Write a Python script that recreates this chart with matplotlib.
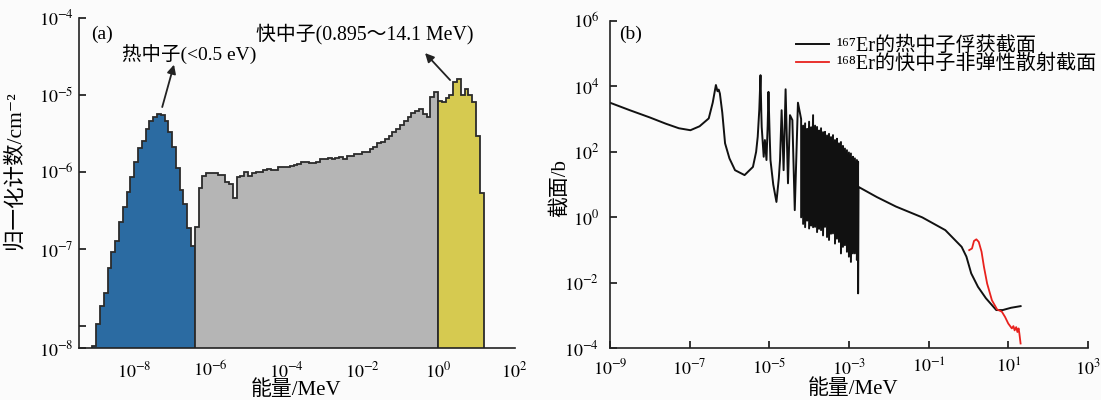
import numpy as np
import matplotlib
matplotlib.use("Agg")
import matplotlib.pyplot as plt

plt.rcParams['font.family'] = ['Liberation Serif', 'Noto Sans CJK SC', 'DejaVu Sans']
plt.rcParams['mathtext.fontset'] = 'stix'

# ---- (a) neutron spectrum: log10(normalised counts/cm^-2) per 0.1-decade bin, from 10^-9.1 MeV
bin_start = -9.1
bin_step = 0.1
thermal = [-8.26, -7.97, -7.74, -7.57, -7.25, -7.04, -6.90, -6.65, -6.46, -6.26, -6.07,
           -5.87, -5.69, -5.60, -5.45, -5.34, -5.29, -5.25, -5.26, -5.34, -5.49,
           -5.68, -5.95, -6.24, -6.42, -6.73, -6.96]
epithermal = [-6.72, -6.21, -6.05, -6.02, -6.01, -6.01, -6.04, -6.04, -6.13, -6.16,
              -6.34, -6.07, -6.05, -6.00, -6.06, -6.02, -6.00, -6.00, -5.98, -5.96,
              -5.98, -5.98, -5.94, -5.94, -5.94, -5.93, -5.91, -5.90, -5.87, -5.87,
              -5.88, -5.88, -5.87, -5.84, -5.84, -5.82, -5.84, -5.82, -5.81, -5.83,
              -5.80, -5.80, -5.77, -5.77, -5.74, -5.74, -5.71, -5.68, -5.63, -5.61,
              -5.58, -5.54, -5.49, -5.44, -5.39, -5.34, -5.29, -5.24, -5.21, -5.19,
              -5.25, -5.29, -5.03, -4.97]
fast = [-5.08, -5.10, -5.04, -5.00, -4.83, -4.80, -5.01, -4.93, -5.01, -5.09, -5.54, -6.28]

# ---- (b) cross sections, log10(E/MeV) and log10(sigma/b)
cap_logE = [-9.0, -8.5, -8.0, -7.6, -7.27, -6.98, -6.75, -6.52, -6.42, -6.34, -6.30, -6.27,
            -6.24, -6.18, -6.11, -6.0, -5.86, -5.62, -5.41, -5.33, -5.29, -5.25, -5.22,
            -5.20, -5.19, -5.14, -5.11, -5.07, -5.04, -5.02, -4.99, -4.97, -4.90, -4.82,
            -4.76, -4.73, -4.69, -4.64, -4.59, -4.53, -4.48, -4.42, -4.36, -4.28]
cap_logxs = [3.50, 3.27, 3.05, 2.86, 2.72, 2.66, 2.78, 3.02, 3.50, 4.04, 3.85, 3.90,
             3.78, 3.20, 2.26, 1.80, 1.44, 1.29, 1.54, 2.00, 2.46, 3.30, 4.34,
             3.20, 2.76, 1.85, 2.36, 1.75, 2.80, 3.83, 2.50, 1.75, 1.00, 0.47,
             1.20, 1.75, 3.27, 1.44, 3.91, 1.04, 3.12, 2.97, 0.22, 3.50]
# unresolved resonance band: peak and trough levels
band_logE = [-4.20, -4.15, -4.10, -4.05, -4.00, -3.95, -3.90, -3.85, -3.80, -3.75,
             -3.70, -3.65, -3.60, -3.55, -3.50, -3.45, -3.40, -3.35, -3.30, -3.25,
             -3.20, -3.15, -3.10, -3.05, -3.00, -2.95, -2.90, -2.85, -2.80, -2.77]
band_hi = [3.00, 2.80, 2.87, 2.70, 2.92, 2.75, 3.12, 2.80, 2.76, 2.65,
           2.72, 2.60, 2.61, 2.50, 2.55, 2.45, 2.51, 2.36, 2.40, 2.26,
           2.30, 2.18, 2.10, 2.05, 1.98, 1.95, 1.85, 1.80, 1.75, 1.70]
band_lo = [0.00, -0.20, -0.30, -0.10, -0.34, -0.25, -0.30, -0.29, -0.45, -0.35,
           -0.39, -0.55, -0.29, -0.60, -0.69, -0.50, -0.49, -0.80, -0.65, -0.75,
           -1.10, -0.90, -0.85, -1.05, -1.20, -1.36, -1.10, -1.10, -1.30, -2.32]
tail_logE = [-2.76, -2.30, -1.82, -1.16, -0.58, -0.17, -0.05, 0.07, 0.24, 0.44, 0.70, 0.86, 1.07, 1.31]
tail_logxs = [0.93, 0.62, 0.33, 0.00, -0.39, -0.90, -1.20, -1.71, -2.12, -2.47, -2.83, -2.83, -2.76, -2.71]

inel_logE = [0.02, 0.09, 0.14, 0.20, 0.26, 0.33, 0.39, 0.47, 0.59, 0.72, 0.84, 0.92,
             1.00, 1.09, 1.13, 1.16, 1.20, 1.23, 1.26, 1.28, 1.31]
inel_logxs = [-1.00, -0.95, -0.72, -0.67, -0.75, -1.05, -1.51, -2.02, -2.53, -2.81, -2.88, -3.04,
              -3.24, -3.39, -3.32, -3.45, -3.35, -3.50, -3.39, -3.55, -3.85]

bg = '#fbfbfb'
fig = plt.figure(figsize=(11.01, 4.0), dpi=100, facecolor=bg)

# ================= (a)
ax = fig.add_axes([0.0718, 0.129, 0.396, 0.827])
ax.set_facecolor(bg)
n1, n2 = len(thermal), len(epithermal)
nb = n1 + n2 + len(fast)
edges = 10 ** (bin_start + bin_step * np.arange(nb + 1))
edge_col = '#2b2b2b'
ax.stairs(10 ** np.array(thermal), edges[:n1 + 1], fill=True, facecolor='#2b6ba2',
          edgecolor=edge_col, linewidth=1.3, baseline=1e-12)
ax.stairs(10 ** np.array(epithermal), edges[n1:n1 + n2 + 1], fill=True, facecolor='#b5b5b5',
          edgecolor=edge_col, linewidth=1.3, baseline=1e-12)
ax.stairs(10 ** np.array(fast), edges[n1 + n2:], fill=True, facecolor='#d6ca50',
          edgecolor=edge_col, linewidth=1.3, baseline=1e-12)

ax.set_xscale('log')
ax.set_yscale('log')
ybot = 10 ** -8.29
ax.set_xlim(10 ** -9.45, 10 ** 2.03)
ax.set_ylim(ybot, 1e-4)
ax.set_xticks([1e-8, 1e-6, 1e-4, 1e-2, 1e0, 1e2])
ax.set_xticklabels(['$10^{-8}$', '$10^{-6}$', '$10^{-4}$', '$10^{-2}$', '$10^{0}$', '$10^{2}$'])
ax.set_yticks([ybot, 1e-8, 1e-7, 1e-6, 1e-5, 1e-4])
ax.set_yticklabels(['$10^{-8}$', '', '$10^{-7}$', '$10^{-6}$', '$10^{-5}$', '$10^{-4}$'])
ax.minorticks_off()
ax.tick_params(axis='y', direction='in', length=5, width=1.1, labelsize=13, pad=4)
ax.tick_params(axis='x', length=0, labelsize=13, pad=9)
for s in ['top', 'right']:
    ax.spines[s].set_visible(False)
for s in ['left', 'bottom']:
    ax.spines[s].set_linewidth(1.2)
    ax.spines[s].set_color('#222222')

ax.set_xlabel('能量/MeV', fontsize=15)
ax.xaxis.set_label_coords(0.498, -0.095)
ax.set_ylabel('归一化计数/cm⁻²', fontsize=15.5)
ax.yaxis.set_label_coords(-0.126, 0.54)
ax.text(0.028, 0.975, '(a)', transform=ax.transAxes, fontsize=14, va='top')

ax.text(0.099, 0.887, '热中子(<0.5 eV)', transform=ax.transAxes, fontsize=14, va='center')
ax.text(0.405, 0.950, '快中子(0.895～14.1 MeV)', transform=ax.transAxes, fontsize=14.3, va='center')
arrow = dict(arrowstyle='-|>', color='#222222', lw=1.3, mutation_scale=13, shrinkA=0, shrinkB=0)
ax.annotate('', xy=(10 ** -6.95, 10 ** -4.61), xytext=(10 ** -7.26, 10 ** -5.16), arrowprops=arrow)
ax.annotate('', xy=(10 ** -0.34, 10 ** -4.46), xytext=(10 ** 0.32, 10 ** -4.81), arrowprops=arrow)

# ================= (b)
bx = fig.add_axes([0.554, 0.129, 0.4341, 0.819])
bx.set_facecolor(bg)
zig_E = np.repeat(band_logE, 2)
zig_xs = np.column_stack([band_hi, band_lo]).ravel()
cap_E = np.concatenate([cap_logE, zig_E, tail_logE])
cap_xs = np.concatenate([cap_logxs, zig_xs, tail_logxs])
bx.plot(10 ** cap_E, 10 ** cap_xs, color='#111111', lw=1.4,
        label='¹⁶⁷Er的热中子俘获截面')
bx.plot(10 ** np.array(inel_logE), 10 ** np.array(inel_logxs), color='#e8211d', lw=1.3,
        label='¹⁶⁸Er的快中子非弹性散射截面')

bx.set_xscale('log')
bx.set_yscale('log')
bx.set_xlim(1e-9, 1e3)
bx.set_ylim(1e-4, 1e6)
bx.set_xticks([1e-9, 1e-7, 1e-5, 1e-3, 1e-1, 1e1, 1e3])
bx.set_xticklabels(['$10^{-9}$', '$10^{-7}$', '$10^{-5}$', '$10^{-3}$', '$10^{-1}$', '$10^{1}$', '$10^{3}$'])
bx.set_yticks([1e-4, 1e-2, 1e0, 1e2, 1e4, 1e6])
bx.set_yticklabels(['$10^{-4}$', '$10^{-2}$', '$10^{0}$', '$10^{2}$', '$10^{4}$', '$10^{6}$'])
bx.minorticks_off()
bx.tick_params(direction='in', length=5, width=1.1, labelsize=13)
bx.tick_params(axis='y', pad=8)
bx.tick_params(axis='x', pad=7)
for s in ['top', 'right']:
    bx.spines[s].set_visible(False)
for s in ['left', 'bottom']:
    bx.spines[s].set_linewidth(1.2)
    bx.spines[s].set_color('#222222')
bx.set_xlabel('能量/MeV', fontsize=15)
bx.xaxis.set_label_coords(0.508, -0.095)
bx.set_ylabel('截面/b', fontsize=15)
bx.yaxis.set_label_coords(-0.085, 0.49)
bx.text(0.02, 0.985, '(b)', transform=bx.transAxes, fontsize=14, va='top')
bx.legend(loc='upper left', bbox_to_anchor=(0.373, 0.975), frameon=False, fontsize=14.5,
          handlelength=1.6, handletextpad=0.4, labelspacing=-0.1, borderaxespad=0)

fig.savefig('out.png', dpi=100, facecolor=bg)
